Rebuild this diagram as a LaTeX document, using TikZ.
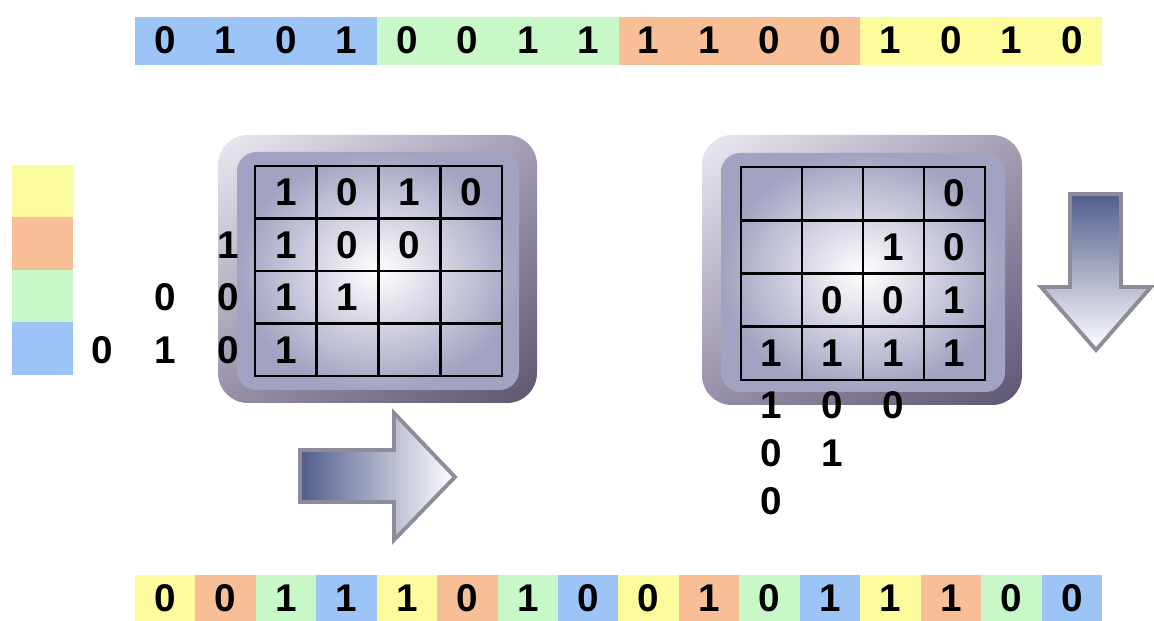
\documentclass[tikz,border=0pt]{standalone}
\usepackage{fontspec}
\setmainfont{Liberation Sans}
\usepackage{tikz}
\usetikzlibrary{calc,shadings}

\definecolor{cellblue}{HTML}{9CC4F6}
\definecolor{cellgreen}{HTML}{C8F7C8}
\definecolor{cellorange}{HTML}{F8BE96}
\definecolor{cellyellow}{HTML}{FCFC9C}
\definecolor{framelight}{HTML}{ECEAF1}
\definecolor{framemid}{HTML}{A49DB5}
\definecolor{framedark}{HTML}{5E5571}
\definecolor{panelblue}{HTML}{A2A2C2}
\definecolor{arrowdark}{HTML}{525D8C}
\definecolor{arrowedge}{HTML}{8E8C9A}

\tikzset{
	bit/.style={font=\fontsize{22}{22}\selectfont\bfseries, inner sep=0pt},
	cell/.style={bit, minimum width=1.209cm, minimum height=0.92cm, outer sep=0pt},
	gridline/.style={line width=1.6pt, color=black},
	frame/.style={rounded corners=17pt, upper left=framelight, upper right=framemid, lower left=framemid!80!framedark, lower right=framedark},
	panel/.style={rounded corners=11pt, inner color=white, outer color=panelblue},
	bigarrow/.style={draw=arrowedge, line width=2.2pt, line join=miter},
}

\begin{document}
\begin{tikzpicture}[x=0.02cm, y=-0.02cm]
			%%%%% START %%%%%
			\useasboundingbox (0,0) rectangle (1154,621);
			
			% top bar
			\fill[cellblue] (135,17) rectangle (376.8,65);
			\fill[cellgreen] (376.8,17) rectangle (618.5,65);
			\fill[cellorange] (618.5,17) rectangle (860.3,65);
			\fill[cellyellow] (860.3,17) rectangle (1102,65);
			\node[bit] (t1) at (165.2,40) {0}; \node[bit] (t2) at (225.7,40) {1};
			\node[bit] (t3) at (286.1,40) {0}; \node[bit] (t4) at (346.5,40) {1};
			\node[bit] (t5) at (407.0,40) {0}; \node[bit] (t6) at (467.4,40) {0};
			\node[bit] (t7) at (527.9,40) {1}; \node[bit] (t8) at (588.3,40) {1};
			\node[bit] (t9) at (648.7,40) {1}; \node[bit] (t10) at (709.2,40) {1};
			\node[bit] (t11) at (769.6,40) {0}; \node[bit] (t12) at (830.1,40) {0};
			\node[bit] (t13) at (890.5,40) {1}; \node[bit] (t14) at (950.9,40) {0};
			\node[bit] (t15) at (1011.4,40) {1}; \node[bit] (t16) at (1071.8,40) {0};
			
			% colour key
			\fill[cellyellow] (12,165) rectangle (73,217);
			\fill[cellorange] (12,217) rectangle (73,270);
			\fill[cellgreen] (12,270) rectangle (73,322);
			\fill[cellblue] (12,322) rectangle (73,375);
			
			% left box
			\shade[frame] (218,135) rectangle (537,403);
			\shade[panel] (237,152) rectangle (519,390);
			\draw[gridline] (255,166) rectangle (502,376);
			\draw[gridline] (316.75,166) -- (316.75,376);
			\draw[gridline] (378.5,166) -- (378.5,376);
			\draw[gridline] (440.25,166) -- (440.25,376);
			\draw[gridline] (255,218.5) -- (502,218.5);
			\draw[gridline] (255,271) -- (502,271);
			\draw[gridline] (255,323.5) -- (502,323.5);
			
			\node[bit] (l11) at (285.9,192.3) {1}; \node[bit] (l12) at (347.6,192.3) {0};
			\node[bit] (l13) at (409.4,192.3) {1}; \node[bit] (l14) at (471.1,192.3) {0};
			\node[bit] (l21) at (285.9,244.8) {1}; \node[bit] (l22) at (347.6,244.8) {0};
			\node[bit] (l23) at (409.4,244.8) {0};
			\node[bit] (l31) at (285.9,297.3) {1}; \node[bit] (l32) at (347.6,297.3) {1};
			\node[bit] (l41) at (285.9,349.8) {1};
			
			\node[bit] (in21) at (228,244.8) {1};
			\node[bit] (in32) at (165,297.3) {0}; \node[bit] (in31) at (228,297.3) {0};
			\node[bit] (in43) at (102,349.8) {0}; \node[bit] (in42) at (165,349.8) {1};
			\node[bit] (in41) at (228,349.8) {0};
			
			\shadedraw[bigarrow, left color=arrowdark, right color=white] (300,450) -- (394,450) -- (394,413) -- (455,477) -- (394,540) -- (394,502) -- (300,502) -- cycle;
			
			% right box
			\shade[frame] (702,135) rectangle (1022,405);
			\shade[panel] (721,153) rectangle (1005,392);
			\draw[gridline] (741,167) rectangle (985,380);
			\draw[gridline] (802,167) -- (802,380);
			\draw[gridline] (863,167) -- (863,380);
			\draw[gridline] (924,167) -- (924,380);
			\draw[gridline] (741,220.25) -- (985,220.25);
			\draw[gridline] (741,273.5) -- (985,273.5);
			\draw[gridline] (741,326.75) -- (985,326.75);
			
			\node[bit] (r14) at (954.5,193.6) {0};
			\node[bit] (r23) at (893.5,246.9) {1}; \node[bit] (r24) at (954.5,246.9) {0};
			\node[bit] (r32) at (832.5,300.1) {0}; \node[bit] (r33) at (893.5,300.1) {0};
			\node[bit] (r34) at (954.5,300.1) {1};
			\node[bit] (r41) at (771.5,353.4) {1}; \node[bit] (r42) at (832.5,353.4) {1};
			\node[bit] (r43) at (893.5,353.4) {1}; \node[bit] (r44) at (954.5,353.4) {1};
			
			\node[bit] (out11) at (771.5,405) {1}; \node[bit] (out12) at (832.5,405) {0};
			\node[bit] (out13) at (893.5,405) {0};
			\node[bit] (out21) at (771.5,453) {0}; \node[bit] (out22) at (832.5,453) {1};
			\node[bit] (out31) at (771.5,501) {0};
			
			\shadedraw[bigarrow, top color=arrowdark, bottom color=white] (1070,194) -- (1121,194) -- (1121,287) -- (1151,287) -- (1096,350) -- (1041,287) -- (1070,287) -- cycle;
			
			% bottom bar
			\node[cell, fill=cellyellow] (b1) at (165.2,598) {0};
			\node[cell, fill=cellorange] (b2) at (225.7,598) {0};
			\node[cell, fill=cellgreen] (b3) at (286.1,598) {1};
			\node[cell, fill=cellblue] (b4) at (346.5,598) {1};
			\node[cell, fill=cellyellow] (b5) at (407.0,598) {1};
			\node[cell, fill=cellorange] (b6) at (467.4,598) {0};
			\node[cell, fill=cellgreen] (b7) at (527.9,598) {1};
			\node[cell, fill=cellblue] (b8) at (588.3,598) {0};
			\node[cell, fill=cellyellow] (b9) at (648.7,598) {0};
			\node[cell, fill=cellorange] (b10) at (709.2,598) {1};
			\node[cell, fill=cellgreen] (b11) at (769.6,598) {0};
			\node[cell, fill=cellblue] (b12) at (830.1,598) {1};
			\node[cell, fill=cellyellow] (b13) at (890.5,598) {1};
			\node[cell, fill=cellorange] (b14) at (950.9,598) {1};
			\node[cell, fill=cellgreen] (b15) at (1011.4,598) {0};
			\node[cell, fill=cellblue] (b16) at (1071.8,598) {0};
			
			%%%%% END %%%%%
\end{tikzpicture}
\end{document}
